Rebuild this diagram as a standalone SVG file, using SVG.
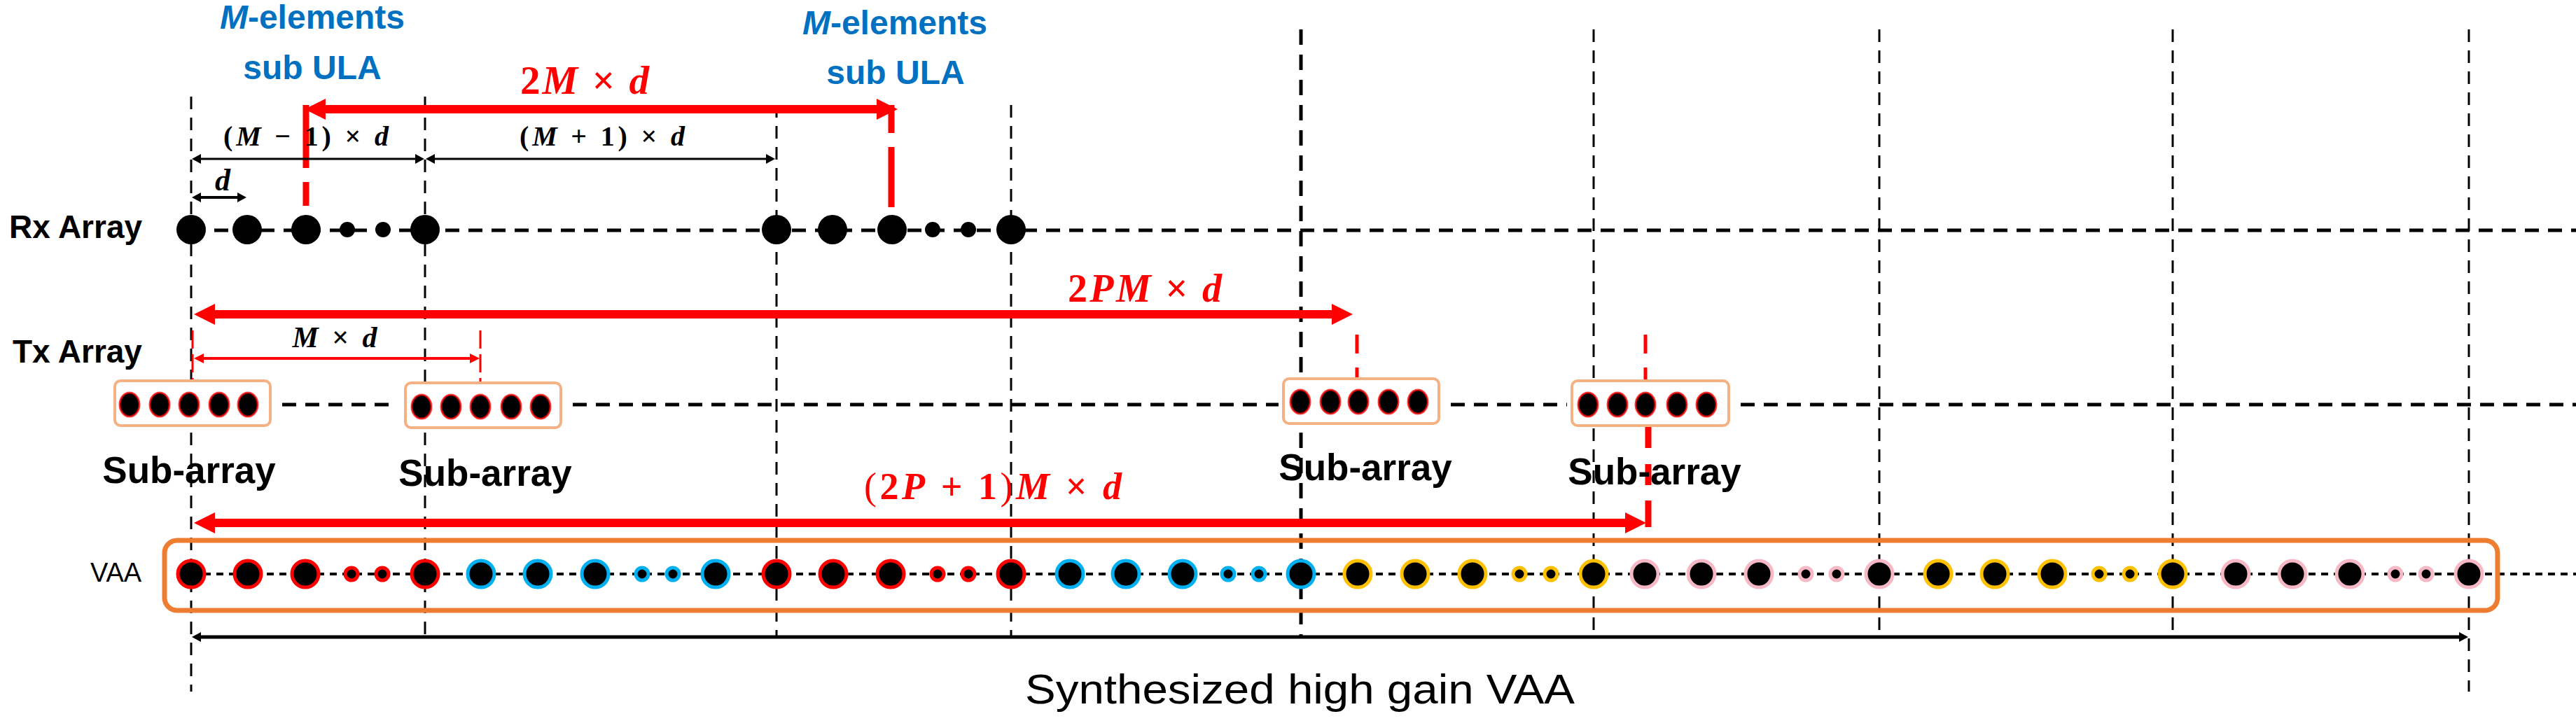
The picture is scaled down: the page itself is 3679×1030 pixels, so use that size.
<svg xmlns="http://www.w3.org/2000/svg" width="3679" height="1030" viewBox="0 0 3679 1030">
<style>
.vl{stroke:#000;stroke-width:3;stroke-dasharray:18 12;fill:none}
.vlb{stroke:#000;stroke-width:5;stroke-dasharray:22 14;fill:none}
.hl{stroke:#000;stroke-width:5;stroke-dasharray:20 13;fill:none}
.hv{stroke:#000;stroke-width:4;stroke-dasharray:10 8;fill:none}
.lab{font-family:'Liberation Sans',Arial,sans-serif;font-weight:bold;fill:#000}
.blue{font-family:'Liberation Sans',Arial,sans-serif;font-weight:bold;fill:#0070C0;font-size:48px;text-anchor:middle}
.math{font-family:'Liberation Serif','Times New Roman',serif;text-anchor:middle;font-weight:bold}
.it{font-style:italic}
.th{font-weight:normal}
.red{fill:#FF0000}
.sub{fill:#fff;stroke:#F4B183;stroke-width:4}
.sd{fill:#000;stroke:#FF0000;stroke-width:3;stroke-opacity:.75}
.rd{fill:#000}
.v{fill:#000;stroke-width:5}
.r{stroke:#FF0000}.b{stroke:#00B0F0}.y{stroke:#FFC000}.p{stroke:#F6B8C4}
.ra{stroke:#FF0000;fill:none}
.ba{stroke:#000;fill:none}
</style>
<defs>
<marker id="hR" markerUnits="userSpaceOnUse" markerWidth="32" markerHeight="30" refX="1" refY="15" orient="auto-start-reverse"><path d="M0,0 L30,15 L0,30 z" fill="#FF0000"/></marker>
<marker id="hRs" markerUnits="userSpaceOnUse" markerWidth="16" markerHeight="14" refX="1" refY="7" orient="auto-start-reverse"><path d="M0,0 L14,7 L0,14 z" fill="#FF0000"/></marker>
<marker id="hB" markerUnits="userSpaceOnUse" markerWidth="14" markerHeight="14" refX="1" refY="7" orient="auto-start-reverse"><path d="M0,0 L13,7 L0,14 z" fill="#000"/></marker>
</defs>
<rect width="3679" height="1030" fill="#fff"/>

<g id="connectors">
  <path class="vl" d="M273 138 V988 M607 138 V910 M1109 150 V910 M1444 150 V910 M2276 42 V910 M2684 42 V910 M3103 42 V910 M3526 42 V988"/>
  <path class="vlb" d="M1858 42 V910"/>
  <path class="hl" d="M273 329 H3679"/>
  <path class="hl" d="M403 578 H566 M818 578 H1826 M2072 578 H2238 M2486 578 H3679"/>
  <path class="hv" d="M273 820 H3679"/>
  <line class="ra" x1="464" y1="156" x2="1253" y2="156" stroke-width="12" marker-start="url(#hR)" marker-end="url(#hR)"/>
  <path class="ra" d="M437 150 V240 M437 260 V294" stroke-width="9"/>
  <path class="ra" d="M1273 150 V190 M1273 210 V296" stroke-width="9"/>
  <line class="ba" x1="286" y1="227" x2="594" y2="227" stroke-width="3" marker-start="url(#hB)" marker-end="url(#hB)"/>
  <line class="ba" x1="620" y1="227" x2="1095" y2="227" stroke-width="3" marker-start="url(#hB)" marker-end="url(#hB)"/>
  <line class="ba" x1="286" y1="282" x2="340" y2="282" stroke-width="4" marker-start="url(#hB)" marker-end="url(#hB)"/>
  <line class="ra" x1="306" y1="449" x2="1903" y2="449" stroke-width="12" marker-start="url(#hR)" marker-end="url(#hR)"/>
  <line class="ra" x1="290" y1="512" x2="672" y2="512" stroke-width="4" marker-start="url(#hRs)" marker-end="url(#hRs)"/>
  <path class="ra" d="M275 472 V543 M686 472 V546" stroke-width="3" stroke-dasharray="26 8"/>
  <path class="ra" d="M1938 478 V540 M2350 478 V543" stroke-width="5" stroke-dasharray="27 20"/>
  <line class="ra" x1="306" y1="747" x2="2322" y2="747" stroke-width="12" marker-start="url(#hR)" marker-end="url(#hR)"/>
  <path class="ra" d="M2354 607 V640 M2354 663 V693 M2354 715 V753" stroke-width="9"/>
  <line class="ba" x1="286" y1="910" x2="3513" y2="910" stroke-width="5" marker-start="url(#hB)" marker-end="url(#hB)"/>
</g>

<g id="label-subula-1">
  <text class="blue" x="446" y="41"><tspan class="it">M</tspan>-elements</text>
  <text class="blue" x="446" y="113">sub ULA</text>
</g>
<g id="label-subula-2">
  <text class="blue" x="1278" y="49"><tspan class="it">M</tspan>-elements</text>
  <text class="blue" x="1279" y="120">sub ULA</text>
</g>

<g id="math-labels">
  <text class="math red" x="835" y="134" font-size="57" textLength="184">2<tspan class="it">M</tspan> × <tspan class="it">d</tspan></text>
  <text class="math" x="437" y="208" font-size="40" textLength="236">(<tspan class="it">M</tspan> − 1) × <tspan class="it">d</tspan></text>
  <text class="math" x="860" y="208" font-size="40" textLength="236">(<tspan class="it">M</tspan> + 1) × <tspan class="it">d</tspan></text>
  <text class="math it" x="318" y="272" font-size="44">d</text>
  <text class="math" x="478" y="496" font-size="42" textLength="121"><tspan class="it">M</tspan> × <tspan class="it">d</tspan></text>
  <text class="math red" x="1635" y="431" font-size="56" textLength="220">2<tspan class="it">PM</tspan> × <tspan class="it">d</tspan></text>
  <text class="math red" x="1418" y="713" font-size="54" textLength="368"><tspan class="th">(</tspan>2<tspan class="it">P</tspan> + 1<tspan class="th">)</tspan><tspan class="it">M</tspan> × <tspan class="it">d</tspan></text>
</g>

<g id="rx-array">
  <text class="lab" x="13" y="340" font-size="46">Rx Array</text>
  <circle class="rd" cx="273" cy="328" r="21"/><circle class="rd" cx="353" cy="328" r="21"/><circle class="rd" cx="437" cy="328" r="21"/>
  <circle class="rd" cx="496" cy="328" r="11"/><circle class="rd" cx="547" cy="328" r="11"/><circle class="rd" cx="607" cy="328" r="21"/>
  <circle class="rd" cx="1109" cy="328" r="21"/><circle class="rd" cx="1189" cy="328" r="21"/><circle class="rd" cx="1274" cy="328" r="21"/>
  <circle class="rd" cx="1332" cy="328" r="11"/><circle class="rd" cx="1383" cy="328" r="11"/><circle class="rd" cx="1444" cy="328" r="21"/>
</g>

<g id="tx-array">
  <text class="lab" x="18" y="518" font-size="46">Tx Array</text>
</g>
<g id="tx-sub-1">
  <rect class="sub" x="164" y="544" width="222" height="64" rx="8"/>
  <ellipse class="sd" cx="185" cy="578" rx="14" ry="17"/><ellipse class="sd" cx="228" cy="578" rx="14" ry="17"/><ellipse class="sd" cx="270" cy="578" rx="14" ry="17"/><ellipse class="sd" cx="313" cy="578" rx="14" ry="17"/><ellipse class="sd" cx="354" cy="578" rx="14" ry="17"/>
  <text class="lab" x="270" y="690" font-size="53" text-anchor="middle">Sub-array</text>
</g>
<g id="tx-sub-2">
  <rect class="sub" x="579" y="547" width="222" height="64" rx="8"/>
  <ellipse class="sd" cx="602" cy="581" rx="14" ry="17"/><ellipse class="sd" cx="644" cy="581" rx="14" ry="17"/><ellipse class="sd" cx="686" cy="581" rx="14" ry="17"/><ellipse class="sd" cx="730" cy="581" rx="14" ry="17"/><ellipse class="sd" cx="772" cy="581" rx="14" ry="17"/>
  <text class="lab" x="693" y="694" font-size="53" text-anchor="middle">Sub-array</text>
</g>
<g id="tx-sub-3">
  <rect class="sub" x="1833" y="541" width="222" height="64" rx="8"/>
  <ellipse class="sd" cx="1857" cy="574" rx="14" ry="17"/><ellipse class="sd" cx="1900" cy="574" rx="14" ry="17"/><ellipse class="sd" cx="1940" cy="574" rx="14" ry="17"/><ellipse class="sd" cx="1983" cy="574" rx="14" ry="17"/><ellipse class="sd" cx="2025" cy="574" rx="14" ry="17"/>
  <text class="lab" x="1950" y="686" font-size="53" text-anchor="middle">Sub-array</text>
</g>
<g id="tx-sub-4">
  <rect class="sub" x="2245" y="544" width="224" height="64" rx="8"/>
  <ellipse class="sd" cx="2268" cy="578" rx="14" ry="17"/><ellipse class="sd" cx="2310" cy="578" rx="14" ry="17"/><ellipse class="sd" cx="2350" cy="578" rx="14" ry="17"/><ellipse class="sd" cx="2395" cy="578" rx="14" ry="17"/><ellipse class="sd" cx="2437" cy="578" rx="14" ry="17"/>
  <text class="lab" x="2363" y="692" font-size="53" text-anchor="middle">Sub-array</text>
</g>

<g id="vaa">
  <text x="129" y="831" font-family="'Liberation Sans',Arial,sans-serif" font-size="38">VAA</text>
  <rect x="235" y="772" width="3332" height="100" rx="18" fill="none" stroke="#ED7D31" stroke-width="7"/>
  <g class="r">
    <circle class="v" cx="273" cy="820" r="19"/><circle class="v" cx="354" cy="820" r="19"/><circle class="v" cx="436" cy="820" r="19"/><circle class="v" cx="502" cy="820" r="9"/><circle class="v" cx="546" cy="820" r="9"/><circle class="v" cx="607" cy="820" r="19"/>
    <circle class="v" cx="1109" cy="820" r="19"/><circle class="v" cx="1190" cy="820" r="19"/><circle class="v" cx="1272" cy="820" r="19"/><circle class="v" cx="1339" cy="820" r="9"/><circle class="v" cx="1383" cy="820" r="9"/><circle class="v" cx="1444" cy="820" r="19"/>
  </g>
  <g class="b">
    <circle class="v" cx="687" cy="820" r="19"/><circle class="v" cx="768" cy="820" r="19"/><circle class="v" cx="850" cy="820" r="19"/><circle class="v" cx="917" cy="820" r="9"/><circle class="v" cx="961" cy="820" r="9"/><circle class="v" cx="1022" cy="820" r="19"/>
    <circle class="v" cx="1528" cy="820" r="19"/><circle class="v" cx="1608" cy="820" r="19"/><circle class="v" cx="1689" cy="820" r="19"/><circle class="v" cx="1754" cy="820" r="9"/><circle class="v" cx="1798" cy="820" r="9"/><circle class="v" cx="1858" cy="820" r="19"/>
  </g>
  <g class="y">
    <circle class="v" cx="1939" cy="820" r="19"/><circle class="v" cx="2021" cy="820" r="19"/><circle class="v" cx="2103" cy="820" r="19"/><circle class="v" cx="2170" cy="820" r="9"/><circle class="v" cx="2215" cy="820" r="9"/><circle class="v" cx="2276" cy="820" r="19"/>
    <circle class="v" cx="2768" cy="820" r="19"/><circle class="v" cx="2849" cy="820" r="19"/><circle class="v" cx="2931" cy="820" r="19"/><circle class="v" cx="2998" cy="820" r="9"/><circle class="v" cx="3042" cy="820" r="9"/><circle class="v" cx="3103" cy="820" r="19"/>
  </g>
  <g class="p">
    <circle class="v" cx="2349" cy="820" r="19"/><circle class="v" cx="2430" cy="820" r="19"/><circle class="v" cx="2512" cy="820" r="19"/><circle class="v" cx="2579" cy="820" r="9"/><circle class="v" cx="2623" cy="820" r="9"/><circle class="v" cx="2684" cy="820" r="19"/>
    <circle class="v" cx="3193" cy="820" r="19"/><circle class="v" cx="3274" cy="820" r="19"/><circle class="v" cx="3356" cy="820" r="19"/><circle class="v" cx="3421" cy="820" r="9"/><circle class="v" cx="3465" cy="820" r="9"/><circle class="v" cx="3526" cy="820" r="19"/>
  </g>
</g>

<g id="caption">
  <text x="1464" y="1005" font-family="'Liberation Sans',Arial,sans-serif" font-size="60" textLength="785" lengthAdjust="spacingAndGlyphs">Synthesized high gain VAA</text>
</g>
</svg>
